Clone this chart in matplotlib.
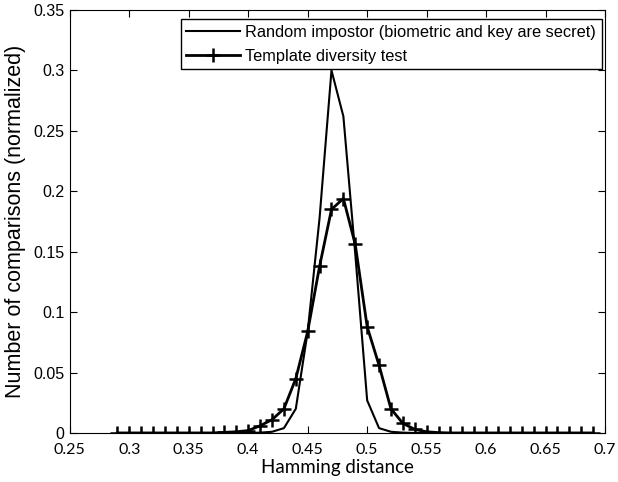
import matplotlib
matplotlib.use("Agg")
from matplotlib import pyplot as plt

plt.rcParams['font.family'] = ['Liberation Sans', 'DejaVu Sans']

# hamming distance bins
hd = [0.29, 0.30, 0.31, 0.32, 0.33, 0.34, 0.35, 0.36, 0.37, 0.38, 0.39,
      0.40, 0.41, 0.42, 0.43, 0.44, 0.45, 0.46, 0.47, 0.48, 0.49,
      0.50, 0.51, 0.52, 0.53, 0.54, 0.55, 0.56, 0.57, 0.58, 0.59,
      0.60, 0.61, 0.62, 0.63, 0.64, 0.65, 0.66, 0.67, 0.68, 0.69]
random_imp = [0, 0, 0, 0, 0, 0, 0, 0, 0, 0, 0,
              0, 0.0003, 0.001, 0.004, 0.02, 0.084, 0.178, 0.300, 0.262, 0.148,
              0.027, 0.004, 0.001, 0.0003, 0, 0, 0, 0, 0, 0,
              0, 0, 0, 0, 0, 0, 0, 0, 0, 0]
template_div = [0, 0, 0, 0, 0, 0, 0, 0, 0, 0.0005, 0.001,
                0.002, 0.006, 0.011, 0.020, 0.045, 0.084, 0.138, 0.185, 0.194, 0.156,
                0.088, 0.056, 0.020, 0.008, 0.003, 0.001, 0.0003, 0, 0, 0,
                0, 0, 0, 0, 0, 0, 0, 0, 0, 0]

fig = plt.figure(figsize=(6.18, 4.82), dpi=100)
ax = fig.add_axes([0.113, 0.1017, 0.866, 0.8776])

ax.plot(hd, random_imp, color='black', lw=1.5,
        label="Random impostor (biometric and key are secret)")
ax.plot(hd, template_div, color='black', lw=2, marker='+', ms=10, mew=1.8,
        label="Template diversity test")

ax.set_xlim(0.25, 0.7)
ax.set_ylim(0, 0.35)
xt = [0.25, 0.3, 0.35, 0.4, 0.45, 0.5, 0.55, 0.6, 0.65, 0.7]
yt = [0, 0.05, 0.1, 0.15, 0.2, 0.25, 0.3, 0.35]
ax.set_xticks(xt)
ax.set_xticklabels(["0.25", "0.3", "0.35", "0.4", "0.45", "0.5", "0.55", "0.6", "0.65", "0.7"],
                   family=['Lato', 'DejaVu Sans'], fontsize=11.5)
ax.set_yticks(yt)
ax.set_yticklabels(["0", "0.05", "0.1", "0.15", "0.2", "0.25", "0.3", "0.35"], fontsize=11.5)
ax.tick_params(direction='in', top=True, right=True, length=5)
ax.tick_params(axis='x', pad=7)
ax.tick_params(axis='y', pad=4)
ax.set_xlabel("Hamming distance", fontsize=13.5, family=['Lato', 'DejaVu Sans'], labelpad=2)
ax.set_ylabel("Number of comparisons (normalized)", fontsize=15.5, labelpad=5)

leg = ax.legend(loc='upper right', bbox_to_anchor=(0.994, 0.979), fontsize=11.8,
                fancybox=False, framealpha=1, edgecolor='black',
                handlelength=3.3, handletextpad=0.3, borderaxespad=0,
                borderpad=0.35, labelspacing=0.55)
leg.get_frame().set_linewidth(1)

fig.savefig("out.png", dpi=100)
